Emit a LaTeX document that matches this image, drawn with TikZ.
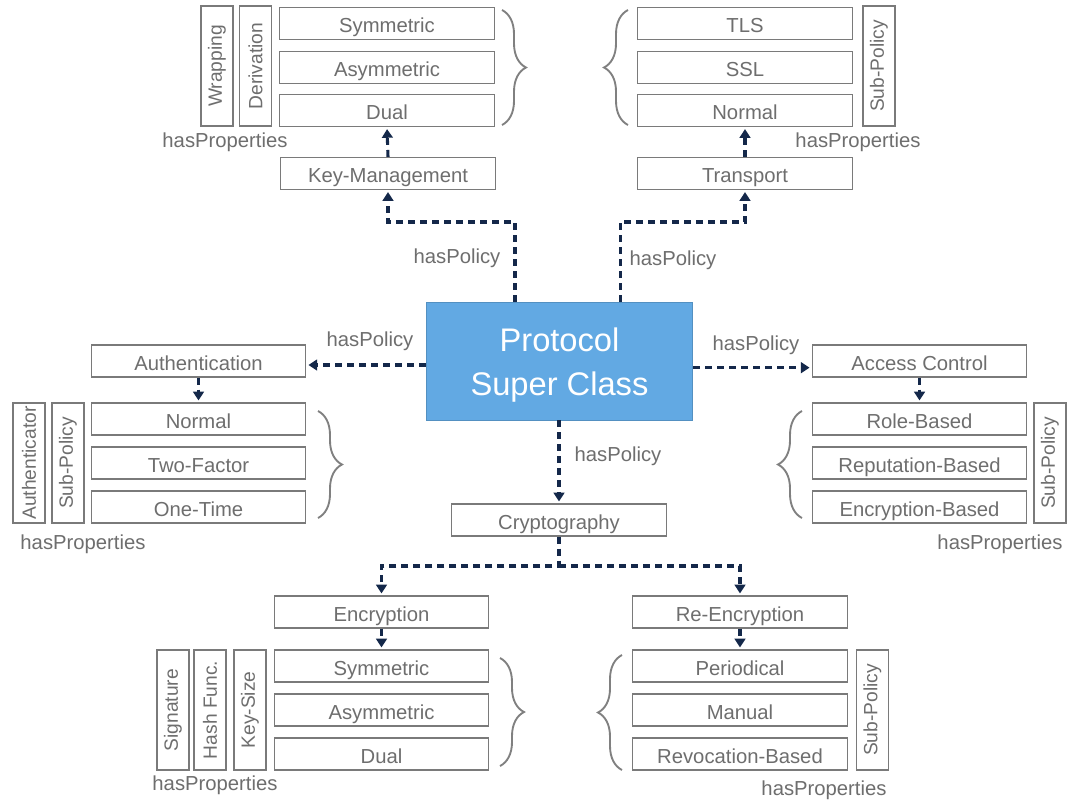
\documentclass[tikz,border=0pt]{standalone}
\usepackage{fontspec}
\setmainfont{Liberation Sans}
\usetikzlibrary{arrows.meta,decorations.pathreplacing,calc}
\definecolor{txt}{HTML}{6E6E6E}
\definecolor{frame}{HTML}{7A7A7A}
\definecolor{navy}{HTML}{14284A}
\definecolor{sky}{HTML}{62A9E3}
\definecolor{bracec}{HTML}{808080}

\begin{document}
\begin{tikzpicture}[x=0.75pt,y=-0.75pt,
  every node/.style={font=\fontsize{15.2}{18}\selectfont, text=txt},
  item/.style={draw=frame, line width=0.9pt, minimum width=161pt, minimum height=24pt,
    inner sep=0pt, text height=13.5pt, text depth=0pt},
  prop/.style={draw=frame, line width=0.9pt, minimum width=90pt, minimum height=24pt, inner sep=0pt,
    rotate=90, font=\fontsize{14.4}{17}\selectfont},
  pol/.style={draw=navy, line width=2.3pt, dash pattern=on 5.2pt off 3.8pt, shorten >=1.5pt,
    -{Triangle[length=6.5pt,width=8pt]}},
  brc/.style={draw=bracec, line width=1.4pt, decorate, decoration={brace, amplitude=18pt}},
  lbl/.style={inner sep=0pt}]

\useasboundingbox[fill=white] (0,0) rectangle (1067,800);

% central class
\node[fill=sky, draw=sky!85!black, line width=0.6pt, minimum width=200pt, minimum height=88.5pt]
  (psc) at (559.5,361) {};
\node[text=white, align=center, font=\fontsize{24.5}{33}\selectfont, inner sep=0pt] (psctxt)
  at ([yshift=-3pt]psc.center) {Protocol\\Super Class};

% ---- Key-Management (top left)
\node[item] (km)    at (388,173.5) {Key-Management};
\node[item] (kmsym) at (387,23.5)  {Symmetric};
\node[item] (kmasy) at (387,67.5)  {Asymmetric};
\node[item] (kmdua) at (387,110.5) {Dual};
\node[prop] (kmwra) at (217,66)    {Wrapping};
\node[prop] (kmder) at (255.5,66)  {Derivation};
\node[lbl]  (kmpr)  at (225,142)   {hasProperties};
\draw[brc] (502,10) -- (502,125);

% ---- Transport (top right)
\node[item] (tr)    at (745,173.5) {Transport};
\node[item] (trtls) at (745,23.5)  {TLS};
\node[item] (trssl) at (745,67.5)  {SSL};
\node[item] (trnor) at (745,110.5) {Normal};
\node[prop] (trsub) at (879,66)    {Sub-Policy};
\node[lbl]  (trpr)  at (858,142)   {hasProperties};
\draw[brc] (628,125) -- (628,10);

% ---- Authentication (left)
\node[item] (au)    at (198.5,361) {Authentication};
\node[item] (aunor) at (198.5,419) {Normal};
\node[item] (autwo) at (198.5,463) {Two-Factor};
\node[item] (auone) at (198.5,507) {One-Time};
\node[prop] (auath) at (29,463)    {Authenticator};
\node[prop] (ausub) at (68,463)    {Sub-Policy};
\node[lbl]  (aupr)  at (83,544)    {hasProperties};
\draw[brc] (318,411) -- (318,518);

% ---- Access Control (right)
\node[item] (ac)    at (919.5,361) {Access Control};
\node[item] (acrol) at (919.5,419) {Role-Based};
\node[item] (acrep) at (919.5,463) {Reputation-Based};
\node[item] (acenc) at (919.5,507) {Encryption-Based};
\node[prop] (acsub) at (1050,463)  {Sub-Policy};
\node[lbl]  (acpr)  at (1000,544)  {hasProperties};
\draw[brc] (802,518) -- (802,411);

% ---- Cryptography (bottom)
\node[item] (cr) at (559,520) {Cryptography};

\node[item] (en)    at (381.5,612) {Encryption};
\node[item] (ensym) at (381.5,666) {Symmetric};
\node[item] (enasy) at (381.5,710) {Asymmetric};
\node[item] (endua) at (381.5,754) {Dual};
\node[prop] (ensig) at (173,710)   {Signature};
\node[prop] (enhas) at (210,710)   {Hash Func.};
\node[prop] (enkey) at (250,710)   {Key-Size};
\node[lbl]  (enpr)  at (215,785)   {hasProperties};
\draw[brc] (500,658) -- (500,766);

\node[item] (re)    at (740,612) {Re-Encryption};
\node[item] (reper) at (740,666) {Periodical};
\node[item] (reman) at (740,710) {Manual};
\node[item] (rerev) at (740,754) {Revocation-Based};
\node[prop] (resub) at (872.5,710) {Sub-Policy};
\node[lbl]  (repr)  at (824,790)   {hasProperties};
\draw[brc] (622,770) -- (622,655);

% ---- policy connectors
\coordinate (ytop) at (0,222);
\coordinate (ysplit) at (0,566);
\coordinate (pkm) at ([xshift=-33.4pt]psc.north);
\coordinate (ptr) at ([xshift=45.4pt]psc.north);

\draw[pol] (pkm) |- (km.south |- ytop) -- (km.south);
\draw[pol] (ptr) |- (tr.south |- ytop) -- (tr.south);
\draw[pol] (km.north) -- (kmdua.south);
\draw[pol] (tr.north) -- (trnor.south);

\coordinate (pau) at ([yshift=-3pt]psc.west |- au.east);
\coordinate (pac) at ([yshift=-5pt]psc.east |- ac.west);
\draw[pol] (pau) -- (pau -| au.east);
\draw[pol] (au.south) -- (aunor.north);
\draw[pol] (pac) -- (pac -| ac.west);
\draw[pol] (ac.south) -- (acrol.north);

\draw[pol] (psc.south -| cr.north) -- (cr.north);
\coordinate (split) at (cr.south |- ysplit);
\draw[pol] (cr.south) -- (split) -| (en.north);
\draw[pol] (split) -| (re.north);
\draw[pol] (en.south) -- (ensym.north);
\draw[pol] (re.south) -- (reper.north);

% connector labels
\node[lbl] (l1) at (457,258) {hasPolicy};
\node[lbl] (l2) at (673,260) {hasPolicy};
\node[lbl] (l3) at (370,341) {hasPolicy};
\node[lbl] (l4) at (756,345) {hasPolicy};
\node[lbl] (l5) at (618,456) {hasPolicy};
\end{tikzpicture}
\end{document}
